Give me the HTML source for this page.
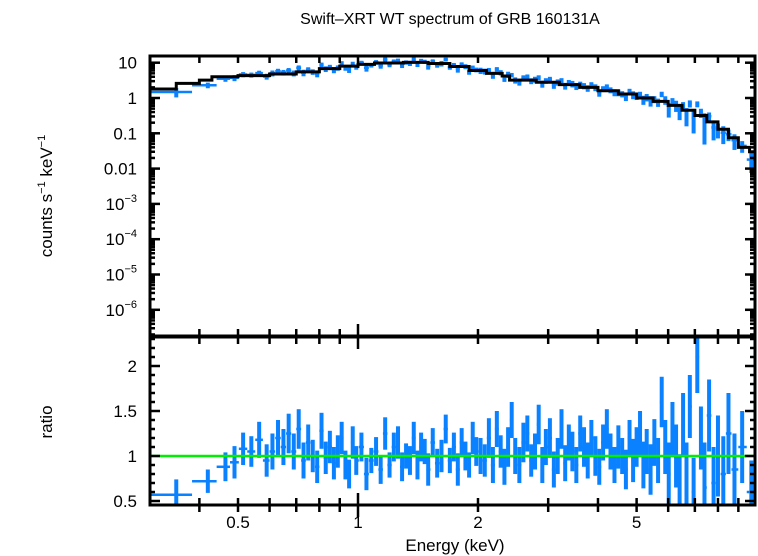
<!DOCTYPE html>
<html><head><meta charset="utf-8">
<style>
html,body{margin:0;padding:0;background:#fff;}
svg{display:block;font-family:"Liberation Sans",sans-serif;}
</style></head>
<body>
<svg id="chart" width="758" height="556" viewBox="0 0 758 556" xmlns="http://www.w3.org/2000/svg">
  <text x="450" y="24" font-size="16" text-anchor="middle">Swift–XRT WT spectrum of GRB 160131A</text>
  <text transform="translate(52,196) rotate(-90)" font-size="17" text-anchor="middle">counts s<tspan font-size="11" dy="-7">−1</tspan><tspan dy="7"> keV</tspan><tspan font-size="11" dy="-7">−1</tspan></text>
  <text transform="translate(52,422) rotate(-90)" font-size="17" text-anchor="middle">ratio</text>
  <text x="455" y="551" font-size="17" text-anchor="middle">Energy (keV)</text>
  <defs>
    <clipPath id="clipTop"><rect x="150" y="56" width="605" height="280"/></clipPath>
    <clipPath id="clipBot"><rect x="150" y="337" width="605" height="168"/></clipPath>
  </defs>
  <g id="topData" clip-path="url(#clipTop)"></g>
  <g id="botData" clip-path="url(#clipBot)"></g>
  <g id="axes"></g>
</svg>
<script>
// ---- data ----
const energies = [0.35,0.42,0.465,0.49,0.515,0.54,0.565,0.59,0.61,0.63,0.65,0.67,0.69,0.71,0.73,0.75,0.77,0.79,0.81,0.83,0.85,0.87,0.89,0.91,0.93,0.95,0.97,0.99,
1.02,1.05,1.08,1.11,1.14,1.17,1.2,1.23,1.26,1.29,1.32,1.35,1.38,1.41,1.44,1.47,1.5,1.54,1.58,1.62,1.66,1.7,1.74,1.78,1.82,1.86,1.9,1.94,1.98,
2.03,2.08,2.13,2.18,2.23,2.28,2.33,2.38,2.43,2.48,2.54,2.6,2.66,2.72,2.78,2.84,2.9,2.96,3.03,3.1,3.17,3.24,3.31,3.38,3.45,3.53,3.61,3.69,3.77,3.85,3.94,4.03,4.12,4.21,4.3,4.4,4.5,4.6,4.7,4.8,4.9,5.0,5.1,5.2,5.3,5.42,5.54,5.66,5.78,5.9,6.02,6.15,6.28,6.41,6.54,6.67,6.8,6.95,7.1,7.25,7.4,7.6,7.8,8.0,8.25,8.5,8.8,9.2,9.7];
const ratios = [0.57,0.72,0.88,0.93,1.08,1.05,1.18,0.95,1.05,1.2,1.1,1.25,1.05,1.3,0.95,1.15,1.0,0.88,1.28,0.98,1.1,0.92,1.05,1.2,0.9,0.8,1.15,0.95,
1.1,0.8,0.95,1.05,0.85,1.25,0.9,1.1,1.15,0.88,1.0,0.95,1.2,0.9,1.1,1.05,0.85,1.15,0.92,1.0,1.3,0.95,1.1,0.85,1.15,1.0,0.9,1.2,1.05,
1.0,0.95,1.2,0.9,1.3,1.05,0.88,1.1,1.4,1.0,0.9,1.15,1.25,0.95,1.05,1.35,0.9,1.1,1.2,0.85,1.0,1.3,0.92,1.15,1.05,0.9,1.25,1.1,0.95,1.2,1.0,0.88,1.15,1.3,1.05,0.9,1.1,1.0,0.85,1.2,0.95,1.1,1.25,0.9,1.05,0.85,1.15,0.95,1.6,1.1,0.8,1.3,1.0,0.7,1.35,0.75,1.55,0.6,2.1,1.2,0.65,1.45,0.7,1.0,0.8,1.25,0.85,1.1,0.6];
const ratioErrs = [0.17,0.13,0.16,0.18,0.18,0.17,0.2,0.18,0.2,0.2,0.2,0.22,0.2,0.22,0.2,0.2,0.18,0.18,0.2,0.18,0.18,0.18,0.18,0.18,0.16,0.16,0.18,0.16,
0.16,0.18,0.14,0.16,0.16,0.18,0.14,0.16,0.18,0.16,0.14,0.16,0.18,0.16,0.16,0.14,0.18,0.16,0.16,0.18,0.16,0.14,0.16,0.18,0.16,0.16,0.14,0.18,0.16,
0.2,0.18,0.22,0.2,0.2,0.18,0.2,0.22,0.2,0.2,0.2,0.22,0.2,0.18,0.2,0.22,0.2,0.2,0.22,0.2,0.2,0.22,0.2,0.2,0.22,0.2,0.2,0.22,0.2,0.2,0.22,0.2,0.2,0.22,0.2,0.2,0.24,0.2,0.22,0.2,0.24,0.22,
0.25,0.26,0.25,0.28,0.26,0.25,0.28,0.3,0.35,0.3,0.35,0.32,0.35,0.4,0.35,0.38,0.4,0.35,0.5,0.4,0.4,0.45,0.42,0.45,0.4,0.4,0.35,0.4,0.35];
const modelEdges = [0.3,0.35,0.4,0.43,0.5,0.6,0.7,0.8,0.9,1.0,1.1,1.3,1.5,1.7,1.9,2.1,2.3,2.4,2.8,3.2,3.6,4.0,4.5,5.0,5.5,6.0,6.5,7.0,7.5,8.0,8.5,9.0,9.6];
const modelVals  = [1.8,2.6,3.2,4.0,4.3,4.8,5.5,6.8,8.0,9.0,9.8,10.2,9.5,7.8,6.0,5.0,4.2,3.2,2.8,2.4,2.0,1.6,1.3,1.0,0.8,0.62,0.45,0.32,0.21,0.13,0.075,0.04,0.03];
const xTickLabels = [0.5,1,2,5];
const countTickVals = [1,0,-1,-2,-3,-4,-5,-6];
const ratioTickVals = [0.5,1,1.5,2];

// ---- scales ----
const X0=150,X1=755, TT=56, TB=336, BT=337, BB=505;
const xs = e => 358 + 398.6*Math.log10(e);
const yT = v => 98 - 35.3*Math.log10(v);
const yB = r => 456 - 90*(r-1);
const NS='http://www.w3.org/2000/svg';
function mk(tag, attrs, parent){const el=document.createElementNS(NS,tag);for(const k in attrs)el.setAttribute(k,attrs[k]);parent.appendChild(el);return el;}
const modelAt = e => {let v=modelVals[0];for(let i=0;i<modelEdges.length;i++){if(e>=modelEdges[i])v=modelVals[i];}return v;};

const topG=document.getElementById('topData'), botG=document.getElementById('botData'), axesG=document.getElementById('axes');
const BLUE='#0a82ff';
const n=Math.min(energies.length,ratios.length,ratioErrs.length);
for(let i=0;i<n;i++){
  const e=energies[i];
  const lo = i===0?0.3:Math.sqrt(energies[i-1]*e);
  const hi = i===n-1?10:Math.sqrt(energies[i+1]*e);
  const r=ratios[i], er=ratioErrs[i];
  const c=modelAt(e)*r, ce=modelAt(e)*er;
  const g1=mk('g',{},topG);
  
  
  mk('line',{x1:xs(lo),x2:xs(hi),y1:yT(c),y2:yT(c),stroke:BLUE,'stroke-width':2.5},g1);
  mk('line',{x1:xs(e),x2:xs(e),y1:yT(c+ce),y2:yT(Math.max(c-ce,1e-7)),stroke:BLUE,'stroke-width':4},g1);
  const g2=mk('g',{},botG);
  
  
  mk('line',{x1:xs(lo),x2:xs(hi),y1:yB(r),y2:yB(r),stroke:BLUE,'stroke-width':2.5},g2);
  mk('line',{x1:xs(e),x2:xs(e),y1:yB(r+er),y2:yB(r-er),stroke:BLUE,'stroke-width':4},g2);
}
let d='';
for(let i=0;i<modelEdges.length;i++){
  const a=xs(modelEdges[i]), b=xs(i+1<modelEdges.length?modelEdges[i+1]:10), yy=yT(modelVals[i]);
  d += (i===0?'M':'L')+a+','+yy+' L'+b+','+yy+' ';
}
const mp=mk('path',{d:d,fill:'none',stroke:'#000','stroke-width':3},topG);


const ul=mk('line',{x1:X0,x2:X1,y1:yB(1),y2:yB(1),stroke:'#00ee00','stroke-width':2.5},botG);



// ---- axes ----
function tick(ax1,ay1,ax2,ay2,w){mk('line',{x1:ax1,y1:ay1,x2:ax2,y2:ay2,stroke:'#000','stroke-width':w||2.5},axesG);}
const f1=mk('rect',{x:X0,y:TT,width:X1-X0,height:TB-TT,fill:'none',stroke:'#000','stroke-width':3},axesG);


const f2=mk('rect',{x:X0,y:BT,width:X1-X0,height:BB-BT,fill:'none',stroke:'#000','stroke-width':3},axesG);


const xt=[0.4,0.5,0.6,0.7,0.8,0.9,1,2,3,4,5,6,7,8,9];
xt.forEach(e=>{
  const px=xs(e), L=(e===1)?12:7;
  [TT,BT,BB].forEach(yy=>{tick(px,yy,px,yy+L);});
  [TB,BB].forEach(yy=>{tick(px,yy,px,yy-L);});
});
xTickLabels.forEach(e=>{
  const t=mk('text',{x:xs(e),y:528,'font-size':17,'text-anchor':'middle'},axesG);
  t.textContent=String(e);
  
  
});
for(let p=-7;p<=1;p++){
  for(let m=1;m<=9;m++){
    const v=m*Math.pow(10,p), py=yT(v);
    if(py<TT||py>TB)continue;
    const L=m===1?10:5;
    tick(X0,py,X0+L,py); tick(X1,py,X1-L,py);
  }
}
countTickVals.forEach(p=>{
  const t=mk('text',{x:137,y:yT(Math.pow(10,p))+6,'font-size':17,'text-anchor':'end'},axesG);
  
  
  if(p===1)t.textContent='10';else if(p===0)t.textContent='1';else if(p===-1)t.textContent='0.1';else if(p===-2)t.textContent='0.01';
  else{t.textContent='10';const s=mk('tspan',{'font-size':11,dy:-8},t);s.textContent='−'+(-p);}
});
for(let k=5;k<=23;k++){
  const r=k/10, py=yB(r); const L=(k%5===0)?10:5;
  tick(X0,py,X0+L,py); tick(X1,py,X1-L,py);
}
ratioTickVals.forEach(r=>{
  const t=mk('text',{x:137,y:yB(r)+6,'font-size':17,'text-anchor':'end'},axesG);
  t.textContent=String(r);
  
  
});
</script>
</body></html>
